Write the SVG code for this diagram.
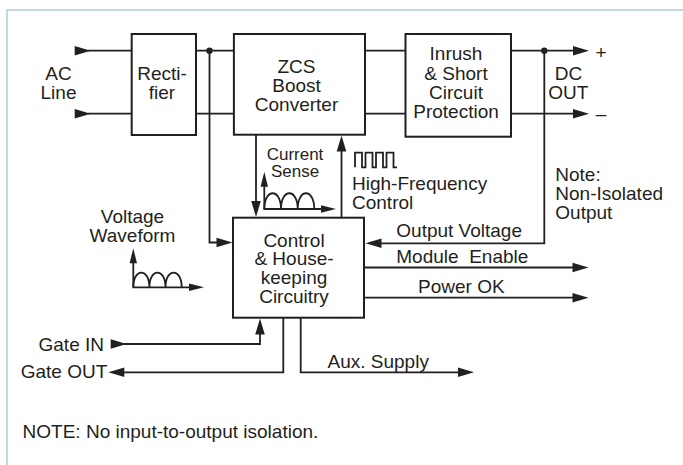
<svg xmlns="http://www.w3.org/2000/svg" xmlns:xlink="http://www.w3.org/1999/xlink" width="683" height="465" viewBox="0 0 683 465">
<style>
.frame{fill:none;stroke:#a9d0da;stroke-width:1.5}
.box{fill:#fff;stroke:#231f20;stroke-width:2}
.ln{fill:none;stroke:#231f20;stroke-width:1.8}
.ah{fill:#231f20}
text{font-family:"Liberation Sans",Arial,sans-serif;font-size:19px;fill:#231f20;white-space:pre}
.c{text-anchor:middle}
.sm{font-size:17px}
</style>
<defs>
<path id="ah" class="ah" d="M-16,-4.8 L0,0 L-16,4.8 z"/>
<path id="ahs" class="ah" d="M-15,-3.7 L0,0 L-15,3.7 z"/>
</defs>
<rect class="frame" x="7" y="10" width="700" height="480"/>

<g id="connectors">
<path class="ln" d="M88,50.7 H131.7 M88,113.7 H131.7"/>
<path class="ln" d="M196,50.7 H233.9 M196,113.7 H233.9"/>
<path class="ln" d="M209.5,50.7 V242.5 H220"/>
<path class="ln" d="M365,50.7 H405.5 M365,113.7 H405.5"/>
<path class="ln" d="M511,50.7 H576 M511,113.7 H576"/>
<path class="ln" d="M544.3,50.7 V243.3 H378"/>
<path class="ln" d="M256,134.7 V205"/>
<path class="ln" d="M341.5,217.7 V148"/>
<path class="ln" d="M364,267.5 H576 M364,297.7 H576"/>
<path class="ln" d="M124,344 H260 V332"/>
<path class="ln" d="M283.3,317.7 V372.3 H122"/>
<path class="ln" d="M300.7,317.7 V372.3 H460"/>
<circle class="ah" cx="209.5" cy="50.7" r="3.2"/>
<circle class="ah" cx="544.3" cy="50.7" r="3.2"/>
<use xlink:href="#ah" transform="translate(90.7,50.7)"/>
<use xlink:href="#ah" transform="translate(90.7,113.7)"/>
<use xlink:href="#ah" transform="translate(589,50.7)"/>
<use xlink:href="#ah" transform="translate(589,113.7)"/>
<use xlink:href="#ah" transform="translate(232.5,242.5)"/>
<use xlink:href="#ah" transform="translate(256,217) rotate(90)"/>
<use xlink:href="#ah" transform="translate(341.5,135.5) rotate(-90)"/>
<use xlink:href="#ah" transform="translate(365.5,243.3) rotate(180)"/>
<use xlink:href="#ah" transform="translate(588.5,267.5)"/>
<use xlink:href="#ah" transform="translate(588.5,297.7)"/>
<use xlink:href="#ah" transform="translate(126.7,344)"/>
<use xlink:href="#ah" transform="translate(260,318.5) rotate(-90)"/>
<use xlink:href="#ah" transform="translate(108.3,372.3) rotate(180)"/>
<use xlink:href="#ah" transform="translate(474,372.3)"/>
</g>

<g id="current-sense-waveform">
<path class="ln" d="M264.3,180 V209 H324"/>
<path class="ln" d="M264.3,209 C264.3,188 281,188 281,209 C281,188 297.7,188 297.7,209 C297.7,188 314.3,188 314.3,209"/>
<use xlink:href="#ahs" transform="translate(264.3,171.7) rotate(-90)"/>
<use xlink:href="#ahs" transform="translate(336,209)"/>
</g>

<g id="voltage-waveform">
<path class="ln" d="M133.3,258 V287.3 H192"/>
<path class="ln" d="M133.3,287.3 C133.3,267.7 149.4,267.7 149.4,287.3 C149.4,267.7 165.5,267.7 165.5,287.3 C165.5,267.7 181.7,267.7 181.7,287.3"/>
<use xlink:href="#ahs" transform="translate(133.3,248.3) rotate(-90)"/>
<use xlink:href="#ahs" transform="translate(204,287.3)"/>
</g>

<g id="square-wave">
<path class="ln" stroke-width="1.5" d="M355,167.3 V152.7 H362 V167.3 H365.5 V152.7 H372.5 V167.3 H376 V152.7 H383 V167.3 H386.5 V152.7 H393.5 V167.3 H397"/>
</g>

<g id="rectifier">
<rect class="box" x="131.7" y="34" width="64.3" height="101"/>
<text class="c" x="162" y="80">Recti-</text>
<text class="c" x="162" y="99.3">fier</text>
</g>

<g id="zcs-boost">
<rect class="box" x="233.9" y="34" width="131.1" height="100.7"/>
<text class="c" x="296.5" y="72.5">ZCS</text>
<text class="c" x="296.5" y="92">Boost</text>
<text class="c" x="296.5" y="111">Converter</text>
</g>

<g id="inrush">
<rect class="box" x="405.5" y="34" width="105.5" height="102.7"/>
<text class="c" x="456" y="60">Inrush</text>
<text class="c" x="456" y="80">&amp; Short</text>
<text class="c" x="456" y="99.3">Circuit</text>
<text class="c" x="456" y="118.3">Protection</text>
</g>

<g id="control">
<rect class="box" x="233" y="217.7" width="131" height="100"/>
<text class="c" x="294" y="246.5">Control</text>
<text class="c" x="294" y="265">&amp; House-</text>
<text class="c" x="294" y="284">keeping</text>
<text class="c" x="294" y="303.3">Circuitry</text>
</g>

<g id="labels">
<text class="c" x="58.5" y="80">AC</text>
<text class="c" x="58.5" y="99.3">Line</text>
<text class="c" x="568.4" y="80">DC</text>
<text class="c" x="568.4" y="99.3">OUT</text>
<text class="c" x="601" y="58.5">+</text>
<text class="c" x="601" y="119.8">–</text>
<text class="c sm" x="295" y="160">Current</text>
<text class="c sm" x="295" y="176.7">Sense</text>
<text x="352" y="190">High-Frequency</text>
<text x="352" y="209.3">Control</text>
<text x="555.3" y="181">Note:</text>
<text x="555.3" y="200">Non-Isolated</text>
<text x="555.3" y="218.5">Output</text>
<text class="c" x="132.5" y="222.7">Voltage</text>
<text class="c" x="132.5" y="241.7">Waveform</text>
<text x="396.3" y="237">Output Voltage</text>
<text x="396.3" y="263">Module  Enable</text>
<text x="418" y="292.7">Power OK</text>
<text x="327.5" y="367.7">Aux. Supply</text>
<text x="104" y="350.7" text-anchor="end">Gate IN</text>
<text x="107.3" y="378.3" text-anchor="end">Gate OUT</text>
<text x="22.6" y="437.7">NOTE: No input-to-output isolation.</text>
</g>
</svg>
